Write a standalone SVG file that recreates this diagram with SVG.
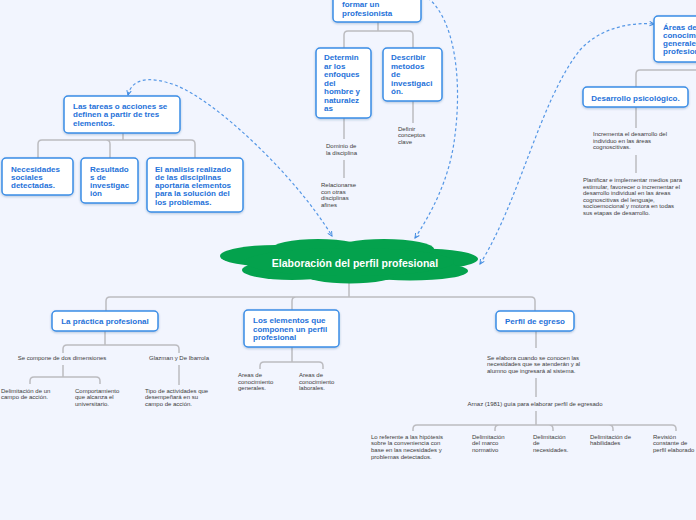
<svg xmlns="http://www.w3.org/2000/svg" width="696" height="520" viewBox="0 0 696 520">
<defs>
<filter id="sh" x="-10%" y="-10%" width="120%" height="130%">
<feDropShadow dx="0" dy="1" stdDeviation="0.8" flood-color="#1a4d8c" flood-opacity="0.3"/>
</filter>
<marker id="ar" viewBox="0 0 8 8" refX="7" refY="4" markerWidth="6" markerHeight="6" orient="auto-start-reverse" markerUnits="userSpaceOnUse">
<path d="M1,1 L7,4 L1,7" fill="none" stroke="#3f8ae0" stroke-width="1.3"/>
</marker>
</defs>
<style>
.box{fill:#ffffff;stroke:#3a8de6;stroke-width:1.5;filter:url(#sh)}
.bt{font-family:"Liberation Sans",Arial,sans-serif;font-weight:bold;font-size:8px;fill:#1f72d9}
.gt{font-family:"Liberation Sans",Arial,sans-serif;font-size:6px;fill:#3c3c3c}
.ln{fill:none;stroke:#bcbcc0;stroke-width:1.5}
.ds{fill:none;stroke:#5597e6;stroke-width:1.2;stroke-dasharray:3 2.5;marker-end:url(#ar)}
.ct{font-family:"Liberation Sans",Arial,sans-serif;font-weight:bold;font-size:10.5px;fill:#ffffff}
</style>
<rect width="696" height="520" fill="#f2f5fe"/>

<g id="connectors">
<path class="ln" d="M349,282 V297 M349,297 H110 Q106,297 106,301 V311 M349,297 H296 Q292,297 292,301 V310 M349,297 H531 Q535,297 535,301 V311"/>
<path class="ln" d="M105,331 V345 M105,345 H67 Q63,345 63,349 V353 M105,345 H175 Q179,345 179,349 V353"/>
<path class="ln" d="M63,365 V377 M63,377 H34 Q30,377 30,381 V384 M63,377 H96 Q100,377 100,381 V384 M179,365 V385"/>
<path class="ln" d="M292,347 V362 M292,362 H264 Q260,362 260,366 V369 M292,362 H319 Q323,362 323,366 V369"/>
<path class="ln" d="M536,331 V348 M536,378 V397 M536,411 V425 M536,425 H417 Q413,425 413,429 V431 M536,425 H499 Q495,425 495,429 V431 M536,425 H549 Q553,425 553,429 V431 M536,425 H609 Q613,425 613,429 V431 M536,425 H672 Q676,425 676,429 V431"/>
<path class="ln" d="M720,70 H640 Q636,70 636,74 V87 M636,107 V128 M636,155 V173"/>
<path class="ln" d="M378,22 V31 M378,31 H348 Q344,31 344,35 V48 M378,31 H409 Q413,31 413,35 V48 M344,118 V139 M344,160 V178 M413,101 V123"/>
<path class="ln" d="M123,133 V140 M123,140 H42 Q38,140 38,144 V158 M123,140 H106 Q110,140 110,144 V158 M123,140 H191 Q195,140 195,144 V158"/>
<path class="ds" style="marker-start:url(#ar)" d="M128,95 C132,78 150,76 175,85 C215,100 295,175 332,236"/>
<path class="ds" d="M428,-2 C455,20 462,80 455,135 C450,180 430,215 415,238"/>
<path class="ds" style="marker-start:url(#ar)" d="M480,264 C520,200 540,100 580,50 C600,28 630,22 654,24"/>
</g>

<g id="n-center">
<g fill="#04a24d">
<ellipse cx="276" cy="256" rx="56" ry="11"/>
<ellipse cx="318" cy="249" rx="47" ry="10"/>
<ellipse cx="384" cy="249" rx="50" ry="10"/>
<ellipse cx="420" cy="259" rx="58" ry="10.5"/>
<ellipse cx="292" cy="270" rx="50" ry="10"/>
<ellipse cx="410" cy="271" rx="58" ry="9.5"/>
<ellipse cx="350" cy="274" rx="46" ry="9.5"/>
<ellipse cx="349" cy="262" rx="105" ry="14"/>
</g>
<text class="ct" x="355" y="267" text-anchor="middle">Elaboración del perfil profesional</text>
</g>

<g id="n-practica">
<rect class="box" x="52" y="311" width="106" height="20" rx="4"/>
<text class="bt" x="105" y="323.5" text-anchor="middle">La práctica profesional</text>
</g>
<g id="n-compone"><text class="gt" x="62" y="360.3" text-anchor="middle">Se compone de dos dimensiones</text></g>
<g id="n-glazman"><text class="gt" x="179" y="360.3" text-anchor="middle">Glazman y De Ibarrola</text></g>
<g id="n-delim-campo"><text class="gt"><tspan x="1" y="392.5">Delimitación de un</tspan><tspan x="1" y="399.2">campo de acción.</tspan></text></g>
<g id="n-comport"><text class="gt"><tspan x="75" y="392.5">Comportamiento</tspan><tspan x="75" y="399.2">que alcanza el</tspan><tspan x="75" y="405.9">universitario.</tspan></text></g>
<g id="n-tipo"><text class="gt"><tspan x="145" y="392.5">Tipo de actividades que</tspan><tspan x="145" y="399.2">desempeñará en su</tspan><tspan x="145" y="405.9">campo de acción.</tspan></text></g>

<g id="n-elementos">
<rect class="box" x="244" y="310" width="95" height="37" rx="4"/>
<text class="bt"><tspan x="253" y="323">Los elementos que</tspan><tspan x="253" y="331.5">componen un perfil</tspan><tspan x="253" y="340">profesional</tspan></text>
</g>
<g id="n-areas-gen"><text class="gt"><tspan x="238" y="377">Areas de</tspan><tspan x="238" y="383.5">conocimiento</tspan><tspan x="238" y="390">generales.</tspan></text></g>
<g id="n-areas-lab"><text class="gt"><tspan x="299" y="377">Areas de</tspan><tspan x="299" y="383.5">conocimiento</tspan><tspan x="299" y="390">laborales.</tspan></text></g>

<g id="n-perfil">
<rect class="box" x="496" y="311" width="78" height="20" rx="4"/>
<text class="bt" x="535" y="323.5" text-anchor="middle">Perfil de egreso</text>
</g>
<g id="n-elabora"><text class="gt"><tspan x="487" y="359.5">Se elabora cuando se conocen las</tspan><tspan x="487" y="366.2">necesidades que se atenderán y al</tspan><tspan x="487" y="372.9">alumno que ingresará al sistema.</tspan></text></g>
<g id="n-arnaz"><text class="gt" x="535" y="406" text-anchor="middle">Arnaz (1981) guía para elaborar perfil de egresado</text></g>
<g id="n-hipotesis"><text class="gt"><tspan x="371" y="438.5">Lo referente a las hipótesis</tspan><tspan x="371" y="445.2">sobre la conveniencia con</tspan><tspan x="371" y="451.9">base en las necesidades y</tspan><tspan x="371" y="458.6">problemas detectados.</tspan></text></g>
<g id="n-marco"><text class="gt"><tspan x="472" y="438.5">Delimitación</tspan><tspan x="472" y="445.2">del marco</tspan><tspan x="472" y="451.9">normativo</tspan></text></g>
<g id="n-necesidades"><text class="gt"><tspan x="533" y="438.5">Delimitación</tspan><tspan x="533" y="445.2">de</tspan><tspan x="533" y="451.9">necesidades.</tspan></text></g>
<g id="n-habilidades"><text class="gt"><tspan x="590" y="438.5">Delimitación de</tspan><tspan x="590" y="445.2">habilidades</tspan></text></g>
<g id="n-revision"><text class="gt"><tspan x="653" y="438.5">Revisión</tspan><tspan x="653" y="445.2">constante de</tspan><tspan x="653" y="451.9">perfil elaborado</tspan></text></g>

<g id="n-areas-prof">
<rect class="box" x="654" y="16" width="70" height="46" rx="4"/>
<text class="bt"><tspan x="663" y="29.5">Áreas de</tspan><tspan x="663" y="37.8">conocimientos</tspan><tspan x="663" y="46.1">generales</tspan><tspan x="663" y="54.4">profesionales</tspan></text>
</g>
<g id="n-desarrollo">
<rect class="box" x="583" y="87" width="105" height="20" rx="4"/>
<text class="bt" x="635.5" y="100.5" text-anchor="middle">Desarrollo psicológico.</text>
</g>
<g id="n-incrementa"><text class="gt"><tspan x="593" y="136">Incrementa el desarrollo del</tspan><tspan x="593" y="142.7">individuo en las áreas</tspan><tspan x="593" y="149.4">cognoscitivas.</tspan></text></g>
<g id="n-planificar"><text class="gt"><tspan x="583" y="182">Planificar e implementar medios para</tspan><tspan x="583" y="188.6">estimular,  favorecer o incrementar el</tspan><tspan x="583" y="195.2">desarrollo individual en las áreas</tspan><tspan x="583" y="201.8">cognoscitivas del lenguaje,</tspan><tspan x="583" y="208.4">socioemocional y motora en todas</tspan><tspan x="583" y="215">sus etapas de desarrollo.</tspan></text></g>

<g id="n-profesionista">
<rect class="box" x="333" y="-10" width="88" height="32" rx="4"/>
<text class="bt"><tspan x="342" y="7">formar un</tspan><tspan x="342" y="15.5">profesionista</tspan></text>
</g>
<g id="n-determinar">
<rect class="box" x="316" y="48" width="55" height="70" rx="4"/>
<text class="bt"><tspan x="324" y="60.3">Determin</tspan><tspan x="324" y="68.8">ar los</tspan><tspan x="324" y="77.3">enfoques</tspan><tspan x="324" y="85.8">del</tspan><tspan x="324" y="94.3">hombre y</tspan><tspan x="324" y="102.8">naturalez</tspan><tspan x="324" y="111.3">as</tspan></text>
</g>
<g id="n-describir">
<rect class="box" x="383" y="48" width="59" height="53" rx="4"/>
<text class="bt"><tspan x="391" y="60.3">Describir</tspan><tspan x="391" y="68.8">metodos</tspan><tspan x="391" y="77.3">de</tspan><tspan x="391" y="85.8">investigaci</tspan><tspan x="391" y="94.3">ón.</tspan></text>
</g>
<g id="n-dominio"><text class="gt"><tspan x="326" y="148">Dominio de</tspan><tspan x="326" y="154.5">la disciplina</tspan></text></g>
<g id="n-relacionarse"><text class="gt"><tspan x="321" y="187">Relacionarse</tspan><tspan x="321" y="193.7">con otras</tspan><tspan x="321" y="200.4">disciplinas</tspan><tspan x="321" y="207.1">afines</tspan></text></g>
<g id="n-definir"><text class="gt"><tspan x="398" y="130.5">Definir</tspan><tspan x="398" y="137.2">conceptos</tspan><tspan x="398" y="143.9">clave</tspan></text></g>

<g id="n-tareas">
<rect class="box" x="64" y="96" width="116" height="37" rx="4"/>
<text class="bt"><tspan x="73" y="109">Las tareas o acciones se</tspan><tspan x="73" y="117.3">definen a partir de tres</tspan><tspan x="73" y="125.6">elementos.</tspan></text>
</g>
<g id="n-necesidades-soc">
<rect class="box" x="2" y="158" width="71" height="37" rx="4"/>
<text class="bt"><tspan x="11" y="171.5">Necesidades</tspan><tspan x="11" y="179.8">sociales</tspan><tspan x="11" y="188.1">detectadas.</tspan></text>
</g>
<g id="n-resultados">
<rect class="box" x="81" y="158" width="57" height="45" rx="4"/>
<text class="bt"><tspan x="90" y="171.5">Resultado</tspan><tspan x="90" y="179.8">s de</tspan><tspan x="90" y="188.1">investigac</tspan><tspan x="90" y="196.4">ión</tspan></text>
</g>
<g id="n-analisis">
<rect class="box" x="147" y="158" width="96" height="54" rx="4"/>
<text class="bt"><tspan x="155" y="171.5">El analisis realizado</tspan><tspan x="155" y="179.8">de las disciplinas</tspan><tspan x="155" y="188.1">aportaría elementos</tspan><tspan x="155" y="196.4">para la solución del</tspan><tspan x="155" y="204.7">los problemas.</tspan></text>
</g>
</svg>
